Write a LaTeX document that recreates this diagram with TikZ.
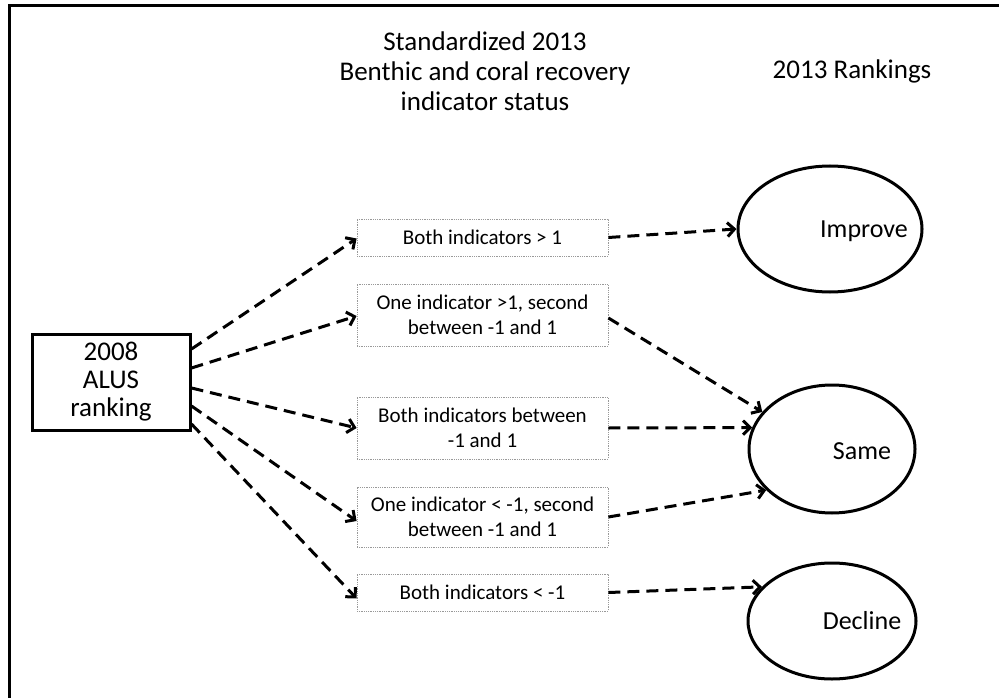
\documentclass[tikz,border=0pt]{standalone}
\usepackage{fontspec}
\setmainfont{Carlito}
\usetikzlibrary{arrows.meta,shapes.geometric}

\begin{document}
\begin{tikzpicture}[x=1pt, y=-1pt, >={Straight Barb[length=7pt,width=14pt]},
    every node/.style={font=\fontsize{21}{25}\selectfont},
    crit/.style={draw=gray!80, densely dotted, line width=0.8pt, minimum width=251pt,
                 align=center, inner sep=3pt},
    rank/.style={draw, ellipse, line width=3pt, inner sep=0pt},
    flow/.style={->, dash pattern=on 12pt off 7pt, line width=3pt}]
      \useasboundingbox (0,0) rectangle (999,698);
      \clip (0,0) rectangle (999,698);
      \draw[line width=3pt] (9,6) rectangle (1010,712);

      % headings
      \node[font=\fontsize{27}{30}\selectfont, align=center] (status) at (485,71)
            {Standardized 2013\\Benthic and coral recovery\\indicator status};
      \node[font=\fontsize{27}{30}\selectfont] (rankings) at (852,71) {2013 Rankings};

      % 2008 ranking
      \node[draw, line width=3pt, minimum width=158pt, minimum height=96pt, align=center,
            font=\fontsize{27}{28}\selectfont] (alus) at (111,382) {2008\\ALUS\\ranking};

      % indicator status
      \node[crit, minimum height=37pt] (both) at (482.5,237.5) {Both indicators > 1};
      \node[crit, minimum height=62pt] (oneup) at (482.5,315) {One indicator >1, second\\between -1 and 1};
      \node[crit, minimum height=62pt] (mid) at (482.5,428) {Both indicators between\\-1 and 1};
      \node[crit, minimum height=60pt] (onedown) at (482.5,517) {One indicator < -1, second\\between -1 and 1};
      \node[crit, minimum height=37pt] (low) at (482.5,592.5) {Both indicators < -1};

      % 2013 rankings
      \node[rank, minimum width=184pt, minimum height=126pt,
            label={[xshift=34pt, yshift=-2pt, font=\fontsize{26}{30}\selectfont]center:Improve}] (improve) at (830,229) {};
      \node[rank, minimum width=166pt, minimum height=128pt,
            label={[xshift=30pt, yshift=-2pt, font=\fontsize{26}{30}\selectfont]center:Same}] (same) at (832,449) {};
      \node[rank, minimum width=168pt, minimum height=116pt,
            label={[xshift=30pt, font=\fontsize{26}{30}\selectfont]center:Decline}] (decline) at (832,621) {};

      \draw[flow] ([yshift=33pt]alus.east) -- ([yshift=-1pt]both.west);
      \draw[flow] ([yshift=14pt]alus.east) -- ([yshift=-1pt]oneup.west);
      \draw[flow] ([yshift=-6pt]alus.east) -- (mid.west);
      \draw[flow] ([yshift=-24pt]alus.east) -- ([yshift=-4pt]onedown.west);
      \draw[flow] ([yshift=-42pt]alus.east) -- ([yshift=-6pt]low.west);

      \draw[flow] (both.east) -- (improve.west);
      \draw[flow] ([yshift=-3pt]oneup.east) -- (same.152);
      \draw[flow] (mid.east) -- (same.165);
      \draw[flow] (onedown.east) -- (same.212);
      \draw[flow] (low.east) -- (decline.154);
\end{tikzpicture}
\end{document}
